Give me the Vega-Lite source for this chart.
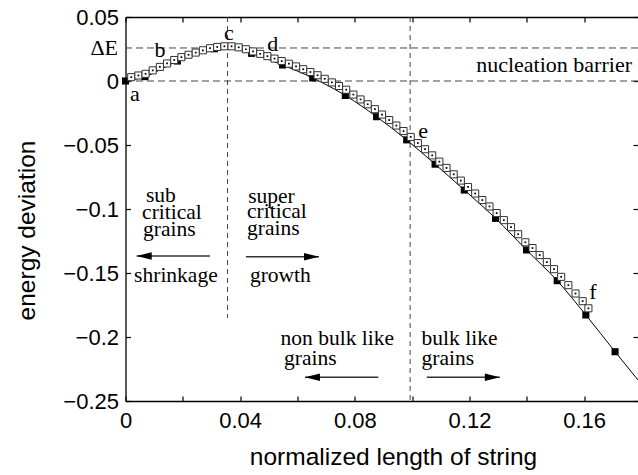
{
  "$schema": "https://vega.github.io/schema/vega-lite/v6.json",
  "width": 512.5,
  "height": 384,
  "autosize": {"type": "none"},
  "padding": {"left": 125.5, "top": 17, "right": 0, "bottom": 74},
  "background": "white",
  "config": {
    "view": {"stroke": null},
    "axis": {"labelFont": "Liberation Sans", "titleFont": "Liberation Sans", "labelColor": "black", "titleColor": "black", "domainColor": "black", "tickColor": "black", "grid": false, "titleFontWeight": "normal", "domainWidth": 1.3, "tickWidth": 1.2}
  },
  "datasets": {
    "curve": [
      {"x": 0, "y": 0, "m": true},
      {"x": 0.0068, "y": 0.0034, "m": true},
      {"x": 0.0181, "y": 0.0156, "m": true},
      {"x": 0.031, "y": 0.0252, "m": true},
      {"x": 0.0355, "y": 0.0259, "m": false},
      {"x": 0.044, "y": 0.0216, "m": true},
      {"x": 0.0548, "y": 0.0125, "m": true},
      {"x": 0.0653, "y": 0.0024, "m": true},
      {"x": 0.0767, "y": -0.0113, "m": true},
      {"x": 0.0876, "y": -0.0279, "m": true},
      {"x": 0.0981, "y": -0.046, "m": true},
      {"x": 0.108, "y": -0.065, "m": true},
      {"x": 0.1182, "y": -0.0852, "m": true},
      {"x": 0.1291, "y": -0.1073, "m": true},
      {"x": 0.1399, "y": -0.132, "m": true},
      {"x": 0.1506, "y": -0.156, "m": true},
      {"x": 0.1606, "y": -0.1828, "m": true},
      {"x": 0.1708, "y": -0.2115, "m": true},
      {"x": 0.1788, "y": -0.2336, "m": false}
    ],
    "open": [
      {"x": 0.002, "y": 0.003}, {"x": 0.0045, "y": 0.0043}, {"x": 0.007, "y": 0.0056}, {"x": 0.0095, "y": 0.0083},
      {"x": 0.012, "y": 0.011}, {"x": 0.0145, "y": 0.0137}, {"x": 0.017, "y": 0.0164}, {"x": 0.0195, "y": 0.0186},
      {"x": 0.022, "y": 0.0205}, {"x": 0.0245, "y": 0.0222}, {"x": 0.027, "y": 0.024}, {"x": 0.0295, "y": 0.0256},
      {"x": 0.032, "y": 0.0266}, {"x": 0.0345, "y": 0.0271}, {"x": 0.037, "y": 0.0271}, {"x": 0.0395, "y": 0.0263},
      {"x": 0.042, "y": 0.0248}, {"x": 0.0445, "y": 0.0231}, {"x": 0.047, "y": 0.0212}, {"x": 0.0495, "y": 0.0194},
      {"x": 0.052, "y": 0.0175}, {"x": 0.0545, "y": 0.0156}, {"x": 0.057, "y": 0.0135}, {"x": 0.0595, "y": 0.0114},
      {"x": 0.062, "y": 0.0092}, {"x": 0.0645, "y": 0.007}, {"x": 0.067, "y": 0.0045}, {"x": 0.0695, "y": 0.0017},
      {"x": 0.072, "y": -0.0011}, {"x": 0.0745, "y": -0.0039}, {"x": 0.077, "y": -0.0068}, {"x": 0.0795, "y": -0.0106},
      {"x": 0.082, "y": -0.0144}, {"x": 0.0845, "y": -0.0182}, {"x": 0.087, "y": -0.022}, {"x": 0.0895, "y": -0.0262},
      {"x": 0.092, "y": -0.0305}, {"x": 0.0945, "y": -0.0348}, {"x": 0.097, "y": -0.0391}, {"x": 0.0995, "y": -0.0437},
      {"x": 0.102, "y": -0.0485}, {"x": 0.1045, "y": -0.0533}, {"x": 0.107, "y": -0.0581}, {"x": 0.1095, "y": -0.063},
      {"x": 0.112, "y": -0.0679}, {"x": 0.1145, "y": -0.0729}, {"x": 0.117, "y": -0.0778}, {"x": 0.1195, "y": -0.0828},
      {"x": 0.122, "y": -0.0879}, {"x": 0.1245, "y": -0.093}, {"x": 0.127, "y": -0.098}, {"x": 0.1295, "y": -0.1032},
      {"x": 0.132, "y": -0.1087}, {"x": 0.1345, "y": -0.1142}, {"x": 0.137, "y": -0.1197}, {"x": 0.1395, "y": -0.126},
      {"x": 0.142, "y": -0.1305}, {"x": 0.1445, "y": -0.136}, {"x": 0.147, "y": -0.1415}, {"x": 0.1495, "y": -0.147},
      {"x": 0.152, "y": -0.153}, {"x": 0.1545, "y": -0.1595}, {"x": 0.157, "y": -0.166}, {"x": 0.1595, "y": -0.172},
      {"x": 0.1615, "y": -0.1776}
    ],
    "hrules": [{"y": 0}, {"y": 0.0258}],
    "vrules": [{"x": 0.0356, "y": 0.05, "y2": -0.185}, {"x": 0.0993, "y": 0.05, "y2": -0.25}],
    "letters": [
      {"t": "a", "x": 0.0033, "y": -0.0102},
      {"t": "b", "x": 0.012, "y": 0.0242},
      {"t": "c", "x": 0.0361, "y": 0.0375},
      {"t": "d", "x": 0.0514, "y": 0.0289},
      {"t": "e", "x": 0.1038, "y": -0.039},
      {"t": "f", "x": 0.1631, "y": -0.1648}
    ],
    "leftText": [
      {"t": "sub", "x": 0.00715, "y": -0.0948},
      {"t": "critical", "x": 0.0058, "y": -0.1078},
      {"t": "grains", "x": 0.0061, "y": -0.1208},
      {"t": "super", "x": 0.0428, "y": -0.095},
      {"t": "critical", "x": 0.0424, "y": -0.107},
      {"t": "grains", "x": 0.0424, "y": -0.12},
      {"t": "shrinkage", "x": 0.003, "y": -0.1568},
      {"t": "growth", "x": 0.0434, "y": -0.1568},
      {"t": "non bulk like", "x": 0.0541, "y": -0.2065},
      {"t": "grains", "x": 0.0553, "y": -0.2222},
      {"t": "bulk like", "x": 0.1033, "y": -0.2065},
      {"t": "grains", "x": 0.1033, "y": -0.2222}
    ],
    "rightText": [
      {"t": "nucleation barrier", "x": 0.1767, "y": 0.0125},
      {"t": "ΔE", "x": -0.0026, "y": 0.0258}
    ],
    "arrows": [
      {"x": 0.0295, "x2": 0.0039, "y": -0.1367},
      {"x": 0.042, "x2": 0.0675, "y": -0.1373},
      {"x": 0.0882, "x2": 0.0626, "y": -0.2315},
      {"x": 0.1051, "x2": 0.1306, "y": -0.2315}
    ],
    "heads": [
      {"x": 0.0039, "y": -0.1367, "d": "L"},
      {"x": 0.0675, "y": -0.1373, "d": "R"},
      {"x": 0.0626, "y": -0.2315, "d": "L"},
      {"x": 0.1306, "y": -0.2315, "d": "R"}
    ]
  },
  "resolve": {"axis": {"x": "independent", "y": "independent"}},
  "layer": [
    {
      "data": {"name": "vrules"},
      "mark": {"type": "rule", "strokeDash": [5, 4], "color": "#444", "strokeWidth": 1},
      "encoding": {
        "x": {"field": "x", "type": "quantitative", "scale": {"domain": [0, 0.1788], "nice": false, "zero": false},
          "axis": {"orient": "bottom", "values": [0, 0.02, 0.04, 0.06, 0.08, 0.1, 0.12, 0.14, 0.16],
            "labelExpr": "abs(datum.value/0.04 - round(datum.value/0.04)) < 0.001 ? format(datum.value, '~g') : ''",
            "tickSize": -5, "labelFontSize": 22, "labelPadding": 14, "labelFlush": false,
            "title": "normalized length of string", "titleFontSize": 24.5, "titleX": 267.5, "titleY": 56,
            "titleBaseline": "middle", "titleAlign": "center"}},
        "y": {"field": "y", "type": "quantitative", "scale": {"domain": [-0.25, 0.05], "nice": false, "zero": false},
          "axis": {"orient": "left", "values": [-0.25, -0.2, -0.15, -0.1, -0.05, 0, 0.05], "format": "~g",
            "tickSize": -5, "labelFontSize": 22, "labelPadding": 12, "labelFlush": false,
            "title": "energy deviation", "titleFontSize": 24.5, "titleX": -98.5, "titleY": 213, "titleAngle": -90,
            "titleBaseline": "middle", "titleAlign": "center"}},
        "y2": {"field": "y2"}
      }
    },
    {
      "data": {"name": "curve"},
      "mark": {"type": "line", "color": "black", "strokeWidth": 1, "interpolate": "monotone", "clip": true},
      "encoding": {
        "x": {"field": "x", "type": "quantitative",
          "axis": {"orient": "top", "values": [0, 0.02, 0.04, 0.06, 0.08, 0.1, 0.12, 0.14, 0.16], "labels": false, "tickSize": -5, "title": null}},
        "y": {"field": "y", "type": "quantitative",
          "axis": {"orient": "right", "values": [-0.25, -0.2, -0.15, -0.1, -0.05, 0, 0.05], "labels": false, "domain": false, "tickSize": -5, "title": null}}
      }
    },
    {
      "data": {"name": "hrules"},
      "mark": {"type": "rule", "strokeDash": [7, 4], "color": "#444", "strokeWidth": 1},
      "encoding": {"y": {"field": "y", "type": "quantitative", "axis": null}}
    },
    {
      "data": {"name": "curve"},
      "transform": [{"filter": "datum.m"}],
      "mark": {"type": "point", "shape": "square", "filled": true, "color": "black", "size": 50, "opacity": 1},
      "encoding": {
        "x": {"field": "x", "type": "quantitative", "axis": null},
        "y": {"field": "y", "type": "quantitative", "axis": null}
      }
    },
    {
      "data": {"name": "open"},
      "mark": {"type": "point", "shape": "square", "filled": true, "fill": "white", "stroke": "#333", "strokeWidth": 1, "size": 50, "opacity": 1},
      "encoding": {
        "x": {"field": "x", "type": "quantitative", "axis": null},
        "y": {"field": "y", "type": "quantitative", "axis": null}
      }
    },
    {
      "data": {"name": "open"},
      "mark": {"type": "point", "shape": "square", "filled": true, "color": "black", "size": 3, "opacity": 1},
      "encoding": {
        "x": {"field": "x", "type": "quantitative", "axis": null},
        "y": {"field": "y", "type": "quantitative", "axis": null}
      }
    },
    {
      "data": {"name": "letters"},
      "mark": {"type": "text", "font": "Liberation Serif", "fontSize": 22, "color": "black", "align": "center", "baseline": "middle"},
      "encoding": {
        "x": {"field": "x", "type": "quantitative", "axis": null},
        "y": {"field": "y", "type": "quantitative", "axis": null},
        "text": {"field": "t"}
      }
    },
    {
      "data": {"name": "leftText"},
      "mark": {"type": "text", "font": "Liberation Serif", "fontSize": 21.5, "color": "black", "align": "left", "baseline": "alphabetic"},
      "encoding": {
        "x": {"field": "x", "type": "quantitative", "axis": null},
        "y": {"field": "y", "type": "quantitative", "axis": null},
        "text": {"field": "t"}
      }
    },
    {
      "data": {"name": "rightText"},
      "mark": {"type": "text", "font": "Liberation Serif", "fontSize": 22, "color": "black", "align": "right", "baseline": "middle"},
      "encoding": {
        "x": {"field": "x", "type": "quantitative", "axis": null},
        "y": {"field": "y", "type": "quantitative", "axis": null},
        "text": {"field": "t"}
      }
    },
    {
      "data": {"name": "arrows"},
      "mark": {"type": "rule", "color": "#333", "strokeWidth": 1.5},
      "encoding": {
        "x": {"field": "x", "type": "quantitative", "axis": null},
        "x2": {"field": "x2"},
        "y": {"field": "y", "type": "quantitative", "axis": null}
      }
    },
    {
      "data": {"name": "heads"},
      "mark": {"type": "point", "filled": true, "color": "black", "size": 225, "opacity": 1},
      "encoding": {
        "x": {"field": "x", "type": "quantitative", "axis": null},
        "y": {"field": "y", "type": "quantitative", "axis": null},
        "shape": {"field": "d", "type": "nominal", "scale": {"domain": ["L", "R"], "range": ["M0,0L2,-0.5L2,0.5Z", "M0,0L-2,-0.5L-2,0.5Z"]}, "legend": null}
      }
    }
  ]
}
